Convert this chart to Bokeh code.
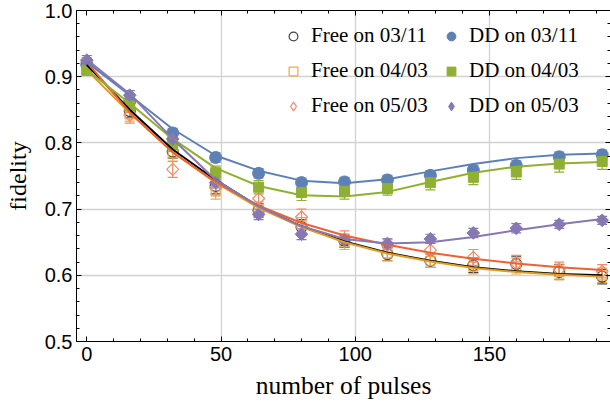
import math
from bokeh.plotting import figure
from bokeh.models import (Range1d, FixedTicker, LinearAxis, Legend, LegendItem,
                          Whisker, TeeHead, ColumnDataSource)
from bokeh.embed import file_html
from bokeh.resources import INLINE

# ---------------- data ----------------
pulses = [0, 16, 32, 48, 64, 80, 96, 112, 128, 144, 160, 176, 192]

free_0311 = [0.918, 0.848, 0.787, 0.735, 0.698, 0.673, 0.652, 0.632, 0.622, 0.615, 0.617, 0.605, 0.598]
free_0403 = [0.910, 0.843, 0.784, 0.728, 0.700, 0.676, 0.650, 0.633, 0.622, 0.613, 0.614, 0.605, 0.600]
free_0503 = [0.922, 0.842, 0.760, 0.732, 0.716, 0.688, 0.655, 0.645, 0.638, 0.627, 0.618, 0.609, 0.606]
dd_0311 = [0.918, 0.863, 0.815, 0.778, 0.754, 0.740, 0.741, 0.744, 0.751, 0.759, 0.766, 0.779, 0.782]
dd_0403 = [0.910, 0.856, 0.797, 0.755, 0.733, 0.725, 0.727, 0.731, 0.740, 0.748, 0.756, 0.768, 0.772]
dd_0503 = [0.925, 0.872, 0.806, 0.740, 0.692, 0.662, 0.653, 0.648, 0.655, 0.664, 0.671, 0.677, 0.683]

err_free_0311 = [0.008, 0.010, 0.010, 0.012, 0.010, 0.011, 0.010, 0.010, 0.010, 0.011, 0.011, 0.011, 0.011]
err_free_0403 = [0.008, 0.010, 0.012, 0.013, 0.011, 0.011, 0.011, 0.011, 0.010, 0.011, 0.012, 0.012, 0.011]
err_free_0503 = [0.007, 0.012, 0.012, 0.012, 0.012, 0.012, 0.012, 0.010, 0.010, 0.012, 0.012, 0.011, 0.010]
err_dd_0311 = [0.006, 0.007, 0.007, 0.007, 0.007, 0.007, 0.007, 0.007, 0.007, 0.007, 0.007, 0.007, 0.007]
err_dd_0403 = [0.008, 0.010, 0.010, 0.010, 0.010, 0.012, 0.012, 0.010, 0.011, 0.011, 0.011, 0.012, 0.012]
err_dd_0503 = [0.007, 0.007, 0.008, 0.008, 0.008, 0.008, 0.007, 0.007, 0.007, 0.007, 0.007, 0.006, 0.006]

# fitted curves, values read at each pulse number
fit_free_0311 = [0.918, 0.850, 0.790, 0.744, 0.704, 0.674, 0.651, 0.634, 0.622, 0.612, 0.606, 0.602, 0.600]
fit_free_0403 = [0.910, 0.845, 0.786, 0.740, 0.702, 0.673, 0.650, 0.633, 0.621, 0.611, 0.605, 0.601, 0.598]
fit_free_0503 = [0.922, 0.846, 0.786, 0.741, 0.705, 0.679, 0.660, 0.646, 0.634, 0.625, 0.618, 0.612, 0.608]
fit_dd_0311 = [0.922, 0.872, 0.821, 0.781, 0.758, 0.743, 0.739, 0.745, 0.757, 0.768, 0.777, 0.782, 0.784]
fit_dd_0403 = [0.910, 0.860, 0.806, 0.762, 0.735, 0.721, 0.719, 0.726, 0.741, 0.755, 0.764, 0.769, 0.771]
fit_dd_0503 = [0.926, 0.874, 0.806, 0.744, 0.704, 0.674, 0.655, 0.648, 0.650, 0.658, 0.668, 0.677, 0.685]

labels = ["Free on 03/11", "Free on 04/03", "Free on 05/03",
          "DD on 03/11", "DD on 04/03", "DD on 05/03"]

x_ticks = [0, 50, 100, 150]
y_ticks = [0.5, 0.6, 0.7, 0.8, 0.9, 1.0]

# ---------------- styles ----------------
BLUE, ORANGE, GREEN, RED, PURPLE = "#5E81B5", "#E19C24", "#8FB032", "#EB6235", "#8778B3"
DIAMOND = math.pi / 4

series = [
    dict(y=free_0311, e=err_free_0311, fit=fit_free_0311, marker="circle", size=11, angle=0,
         leg_marker="circle", color="#444444", fit_color="#000000", filled=False),
    dict(y=free_0403, e=err_free_0403, fit=fit_free_0403, marker="square", size=9, angle=0,
         leg_marker="square", color="#EBAA4C", fit_color=ORANGE, filled=False),
    dict(y=free_0503, e=err_free_0503, fit=fit_free_0503, marker="square", size=8.5, angle=DIAMOND,
         leg_marker="diamond", color="#F08A6A", fit_color=RED, filled=False),
    dict(y=dd_0311, e=err_dd_0311, fit=fit_dd_0311, marker="circle", size=12, angle=0,
         leg_marker="circle", color=BLUE, fit_color=BLUE, filled=True),
    dict(y=dd_0403, e=err_dd_0403, fit=fit_dd_0403, marker="square", size=10, angle=0,
         leg_marker="square", color=GREEN, fit_color=GREEN, filled=True),
    dict(y=dd_0503, e=err_dd_0503, fit=fit_dd_0503, marker="square", size=9, angle=DIAMOND,
         leg_marker="diamond", color=PURPLE, fit_color=PURPLE, filled=True),
]

p = figure(width=610, height=408, output_backend="svg", toolbar_location=None,
           x_range=Range1d(-3.84, 195.1), y_range=Range1d(0.5, 1.0),
           min_border_left=76, min_border_right=0, min_border_top=10, min_border_bottom=67,
           x_axis_label="number of pulses", y_axis_label="fidelity")
p.outline_line_color = None
p.background_fill_color = "white"
p.border_fill_color = "white"

x_minor = list(range(0, 200, 10))
y_minor = [round(0.5 + 0.02 * i, 2) for i in range(26)]

TICK_FONT = "Liberation Sans"
LABEL_FONT = "Liberation Serif"

for ax in (p.xaxis[0], p.yaxis[0]):
    ax.axis_line_color = "black"
    ax.axis_line_width = 1
    ax.major_tick_in = 5
    ax.major_tick_out = 0
    ax.minor_tick_in = 3
    ax.minor_tick_out = 0
    ax.major_tick_line_color = "black"
    ax.minor_tick_line_color = "black"
    ax.major_label_text_font = TICK_FONT
    ax.major_label_text_font_size = "20px"
    ax.major_label_text_color = "black"
    ax.axis_label_text_font = LABEL_FONT
    ax.axis_label_text_font_style = "normal"
    ax.axis_label_text_font_size = "24px"
    ax.axis_label_text_color = "black"

p.xaxis[0].axis_label_text_font_size = "25.5px"
p.xaxis[0].ticker = FixedTicker(ticks=x_ticks, minor_ticks=x_minor)
p.yaxis[0].ticker = FixedTicker(ticks=y_ticks, minor_ticks=y_minor)
p.yaxis[0].major_label_overrides = {t: f"{t:.1f}" for t in y_ticks}
p.xaxis[0].major_label_standoff = 5
p.yaxis[0].major_label_standoff = 4
p.xaxis[0].axis_label_standoff = 7
p.yaxis[0].axis_label_standoff = 11

top = LinearAxis(ticker=FixedTicker(ticks=x_ticks, minor_ticks=x_minor))
right = LinearAxis(ticker=FixedTicker(ticks=y_ticks, minor_ticks=y_minor))
for ax in (top, right):
    ax.major_tick_in = 5
    ax.major_tick_out = 0
    ax.minor_tick_in = 3
    ax.minor_tick_out = 0
    ax.major_label_text_font_size = "0px"
    ax.major_label_standoff = 0
    ax.major_label_text_alpha = 0
right.axis_line_color = None
p.add_layout(top, "above")
p.add_layout(right, "right")

p.xgrid.ticker = FixedTicker(ticks=[50, 100, 150])
p.ygrid.ticker = FixedTicker(ticks=[0.6, 0.7, 0.8, 0.9])
for g in (p.xgrid[0], p.ygrid[0]):
    g.grid_line_color = "#d2d2d2"
    g.grid_line_width = 1.3

legend_renderers = []
for s in series:
    src = ColumnDataSource(dict(
        x=pulses, y=s["y"],
        lo=[v - e for v, e in zip(s["y"], s["e"])],
        hi=[v + e for v, e in zip(s["y"], s["e"])]))
    w = Whisker(base="x", lower="lo", upper="hi", source=src,
                line_color=s["color"], line_width=1.2,
                upper_head=TeeHead(size=10, line_color=s["color"], line_width=1.2),
                lower_head=TeeHead(size=10, line_color=s["color"], line_width=1.2))
    p.add_layout(w)
    fill = s["color"] if s["filled"] else None
    lw = 1 if s["filled"] else 1.2
    p.scatter("x", "y", source=src, marker=s["marker"], size=s["size"], angle=s["angle"],
              fill_color=fill, line_color=s["color"], line_width=lw)
    # hidden twin renderer, only used so that the legend shows the proper marker shape
    lr = p.scatter("x", "y", source=src, marker=s["leg_marker"], size=s["size"],
                   fill_color=fill, line_color=s["color"], line_width=lw, visible=False)
    legend_renderers.append(lr)

for s in series:
    p.line(pulses, s["fit"], line_color=s["fit_color"], line_width=2)

def make_legend(items, vx):
    lg = Legend(items=items, location=(vx, 223), orientation="vertical")
    lg.background_fill_alpha = 0
    lg.border_line_color = None
    lg.padding = 0
    lg.margin = 0
    lg.spacing = 10
    lg.glyph_width = 22
    lg.glyph_height = 22
    lg.label_height = 22
    lg.label_standoff = 7
    lg.label_text_font = LABEL_FONT
    lg.label_text_font_size = "21px"
    lg.label_text_color = "black"
    lg.inactive_fill_alpha = 0
    return lg

leg1 = make_legend([LegendItem(label=labels[i], renderers=[legend_renderers[i]]) for i in range(3)], 206)
leg2 = make_legend([LegendItem(label=labels[i], renderers=[legend_renderers[i]]) for i in range(3, 6)], 364)
p.add_layout(leg1)
p.add_layout(leg2)

open("out.html", "w").write(file_html(p, INLINE))
